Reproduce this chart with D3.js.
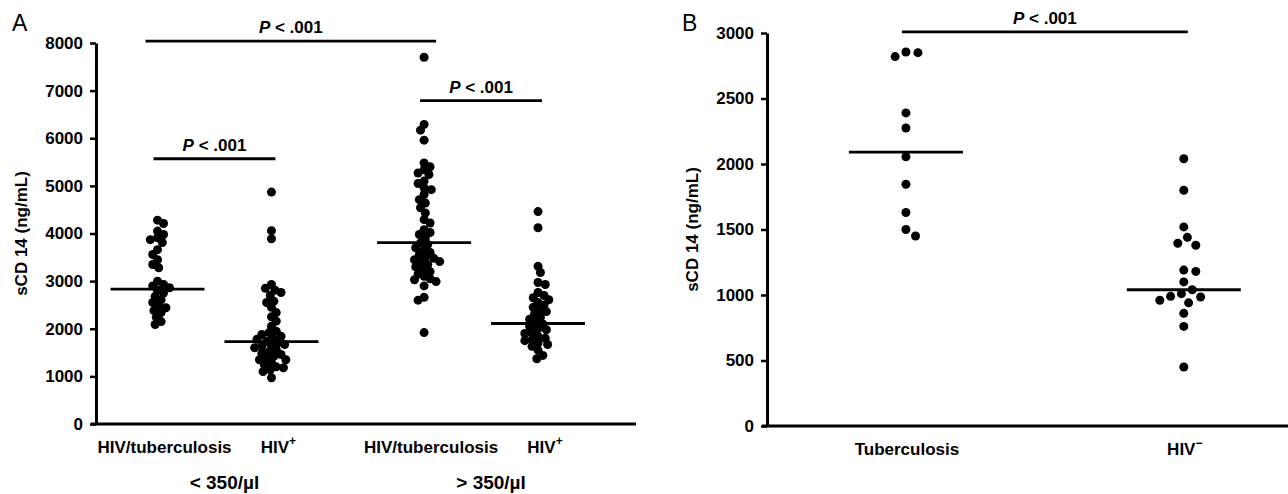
<!DOCTYPE html>
<html>
<head>
<meta charset="utf-8">
<script src="https://cdn.jsdelivr.net/npm/d3@7"></script>
<style>
  body { margin: 0; background: #fff; }
  svg text { font-family: "Liberation Sans", Arial, sans-serif; fill: #000; }
</style>
</head>
<body>
<div id="chart-area"></div>
<script>
// ---- data (sCD14, ng/mL) ----
var groupsA = ["HIV/tuberculosis <350", "HIV+ <350", "HIV/tuberculosis >350", "HIV+ >350"];
var ticksA = [0, 1000, 2000, 3000, 4000, 5000, 6000, 7000, 8000];

var tbLow = [4280, 4210, 4050, 3980, 3910, 3870, 3810, 3660, 3560, 3450, 3350, 3280,
    3000, 2930, 2900, 2860, 2810, 2750, 2680, 2610, 2550, 2470, 2440, 2380, 2340, 2240, 2150, 2090];
var hivLow = [4870, 4060, 3890, 2930, 2850, 2810, 2760, 2700, 2580, 2550, 2450, 2340, 2250,
    2160, 2050, 1950, 1920, 1880, 1840, 1800, 1780, 1740, 1700, 1670, 1650, 1630, 1600, 1560,
    1520, 1480, 1460, 1420, 1390, 1350, 1350, 1290, 1250, 1200, 1180, 1140, 1100, 970];
var tbHigh = [7700, 6290, 6170, 5960, 5480, 5400, 5340, 5270, 5240, 5100, 5050, 4960, 4920,
    4820, 4710, 4640, 4540, 4430, 4290, 4220, 4080, 4020, 3980, 3900, 3800, 3770, 3700, 3650,
    3600, 3560, 3500, 3480, 3450, 3410, 3390, 3350, 3300, 3240, 3200, 3150, 3100, 3050, 3030,
    2990, 2900, 2660, 2600, 1920];
var hivHigh = [4460, 4120, 3310, 3180, 2970, 2930, 2760, 2700, 2650, 2610, 2550, 2500, 2450,
    2400, 2360, 2300, 2240, 2200, 2130, 2100, 2050, 2000, 1980, 1920, 1900, 1840, 1800, 1770,
    1750, 1700, 1670, 1630, 1550, 1440, 1370];
var mediansA = [2830, 1730, 3810, 2110];

var groupsB = ["Tuberculosis", "HIV-"];
var ticksB = [0, 500, 1000, 1500, 2000, 2500, 3000];
var tbOnly = [2855, 2850, 2820, 2390, 2275, 2055, 1845, 1630, 1500, 1450];
var hivNeg = [2040, 1800, 1520, 1440, 1395, 1380, 1190, 1180, 1100, 1040, 1010, 990, 985,
    960, 940, 860, 760, 450];
var mediansB = [2090, 1040];

// significance bars: [from group, to group, height]
var sigA = [[0, 2, 8040], [0, 1, 5570], [2, 3, 6790]];
var sigB = [[0, 1, 3008]];

var W = 1288, H = 494;
var font = '"Liberation Sans", Arial, sans-serif';

var svg = d3.select("#chart-area")
    .append("svg")
        .attr("width", W)
        .attr("height", H);

// simple beeswarm so the dots spread sideways a bit
function swarm(values, y, d) {
    var order = d3.range(values.length).sort(function(a, b) { return d3.descending(values[a], values[b]); });
    var placed = [];
    var off = [];
    order.forEach(function(i, k) {
        var yi = y(values[i]);
        var dir = k % 2 ? 1 : -1;
        var found = null;
        for (var m = 0; m < 80 && found === null; m++) {
            [dir, -dir].forEach(function(s) {
                if (found !== null) return;
                var dx = s * m * 1.2;
                var ok = placed.every(function(p) {
                    return (p[0] - dx) * (p[0] - dx) + (p[1] - yi) * (p[1] - yi) >= d * d;
                });
                if (ok) found = dx;
            });
        }
        off[i] = found === null ? 0 : found;
        placed.push([off[i], yi]);
    });
    return off;
}

function drawPanel(p) {
    var g = svg.append("g");

    var y = d3.scaleLinear().domain([0, p.ymax]).range([p.bottom, p.top]);
    var x = d3.scaleLinear().domain([0, p.xmax]).range([p.left, p.right]);
    var cx = function(i) { return x(p.pos(i)); };

    // y axis
    var yAxis = g.append("g")
        .attr("transform", "translate(" + p.left + ",0)")
        .call(d3.axisLeft(y).tickValues(p.ticks).tickFormat(d3.format("d"))
            .tickSize(6).tickSizeOuter(0).tickPadding(7));
    yAxis.select(".domain").attr("stroke-width", 3);
    yAxis.selectAll(".tick line").attr("stroke-width", 2.5);
    yAxis.selectAll(".tick text")
        .attr("font-family", font)
        .attr("font-weight", "bold")
        .attr("font-size", "17px")
        .attr("fill", "#000");

    // x axis line
    g.append("line")
        .attr("x1", p.left - 5).attr("x2", p.right)
        .attr("y1", y(0)).attr("y2", y(0))
        .attr("stroke", "#000").attr("stroke-width", 3);

    // y label
    g.append("text")
        .attr("transform", "translate(" + p.ylabX + "," + ((p.top + p.bottom) / 2) + ") rotate(-90)")
        .attr("text-anchor", "middle")
        .attr("dominant-baseline", "central")
        .attr("font-weight", "bold")
        .attr("font-size", "17px")
        .text("sCD 14 (ng/mL)");

    // panel letter
    g.append("text")
        .attr("x", p.letterX).attr("y", 31)
        .attr("font-size", "23px")
        .text(p.letter);

    // dots
    p.series.forEach(function(vals, i) {
        var off = swarm(vals, y, p.swarmGap);
        g.selectAll(null)
            .data(vals)
            .enter()
            .append("circle")
                .attr("cx", function(d, j) { return cx(i) + off[j]; })
                .attr("cy", function(d) { return y(d); })
                .attr("r", 4.5)
                .attr("fill", "#000");
    });

    // median lines
    g.selectAll(null)
        .data(p.medians)
        .enter()
        .append("line")
            .attr("x1", function(d, i) { return cx(i) - p.medHalf; })
            .attr("x2", function(d, i) { return cx(i) + p.medHalf; })
            .attr("y1", function(d) { return y(d); })
            .attr("y2", function(d) { return y(d); })
            .attr("stroke", "#000")
            .attr("stroke-width", 2.8);

    // category labels
    p.labels.forEach(function(lab, i) {
        var t = g.append("text")
            .attr("x", cx(i) + p.labDx)
            .attr("y", y(0) + 29)
            .attr("text-anchor", "middle")
            .attr("font-weight", "bold")
            .attr("font-size", "17px");
        t.append("tspan").text(lab.text);
        if (lab.sup) {
            t.append("tspan")
                .attr("dy", -8)
                .attr("font-size", "12px")
                .text(lab.sup);
        }
    });

    // significance bars
    p.sig.forEach(function(s) {
        var ext = (s[1] - s[0]) > 1 ? 12 : 4;
        var x1 = cx(s[0]) - ext, x2 = cx(s[1]) + ext;
        g.append("line")
            .attr("x1", x1).attr("x2", x2)
            .attr("y1", y(s[2])).attr("y2", y(s[2]))
            .attr("stroke", "#000").attr("stroke-width", 2.8);
        var t = g.append("text")
            .attr("x", (x1 + x2) / 2)
            .attr("y", y(s[2]) - 8)
            .attr("text-anchor", "middle")
            .attr("font-weight", "bold")
            .attr("font-size", "17px");
        t.append("tspan").attr("font-style", "italic").text("P");
        t.append("tspan").text(" < .001");
    });

    return { x: x, y: y, cx: cx };
}

// Panel A
var a = drawPanel({
    letter: "A", letterX: 12,
    left: 96, right: 636, top: 43, bottom: 424,
    ymax: 8000, ticks: ticksA, xmax: 4.74,
    pos: function(i) { return 0.54 + i + (i >= 2 ? 0.34 : 0); },
    series: [tbLow, hivLow, tbHigh, hivHigh],
    swarmGap: 6.4,
    medians: mediansA, medHalf: 47,
    labels: [{ text: "HIV/tuberculosis" }, { text: "HIV", sup: "+" },
             { text: "HIV/tuberculosis" }, { text: "HIV", sup: "+" }],
    labDx: 7,
    ylabX: 21,
    sig: sigA
});

// CD4 group labels under panel A
[["< 350/µl", 0, 1], ["> 350/µl", 2, 3]].forEach(function(d) {
    svg.append("text")
        .attr("x", (a.cx(d[1]) + a.cx(d[2])) / 2 + 10)
        .attr("y", 489)
        .attr("text-anchor", "middle")
        .attr("font-weight", "bold")
        .attr("font-size", "19px")
        .text(d[0]);
});

// Panel B
drawPanel({
    letter: "B", letterX: 682,
    left: 767, right: 1288, top: 33, bottom: 426,
    ymax: 3000, ticks: ticksB, xmax: 1.875,
    pos: function(i) { return 0.5 + i; },
    series: [tbOnly, hivNeg],
    swarmGap: 11,
    medians: mediansB, medHalf: 57,
    labels: [{ text: "Tuberculosis" }, { text: "HIV", sup: "\u2212" }],
    labDx: 1,
    ylabX: 692,
    sig: sigB
});
</script>
</body>
</html>
